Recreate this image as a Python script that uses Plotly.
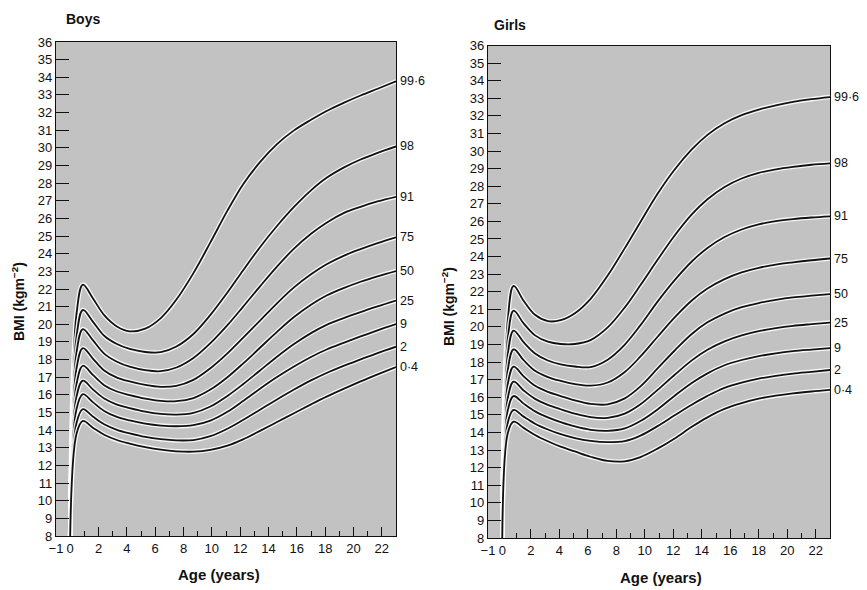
import plotly.graph_objects as go

# ---------------- data ----------------
centiles = ["99·6", "98", "91", "75", "50", "25", "9", "2", "0·4"]

boys_age = [0, 0.45, 0.9, 1.6, 2.4, 3.3, 4.2, 5.3, 6.4, 7.5, 8.7, 9.9, 11.1, 12.2,
            13.4, 14.6, 15.8, 17.0, 18.1, 19.3, 20.5, 21.7, 23]
boys_996 = [8, 20.6, 22.25, 21.48, 20.52, 19.88, 19.6, 19.75, 20.35, 21.4, 22.9, 24.64, 26.44,
            27.93, 29.19, 30.21, 30.99, 31.59, 32.09, 32.55, 32.97, 33.35, 33.77]
boys_98 = [8, 19.3, 20.81, 20.15, 19.35, 18.88, 18.6, 18.43, 18.42, 18.74, 19.45, 20.53, 21.8,
           23.05, 24.37, 25.57, 26.65, 27.59, 28.3, 28.88, 29.34, 29.72, 30.08]
boys_91 = [8, 18.4, 19.73, 19.1, 18.34, 17.88, 17.6, 17.4, 17.34, 17.55, 18.09, 18.93, 19.95,
           20.99, 22.15, 23.27, 24.29, 25.13, 25.76, 26.3, 26.66, 26.96, 27.22]
boys_75 = [8, 17.5, 18.65, 18.06, 17.38, 16.98, 16.76, 16.56, 16.45, 16.51, 16.85, 17.51, 18.35,
           19.23, 20.21, 21.19, 22.09, 22.83, 23.4, 23.88, 24.26, 24.6, 24.93]
boys_50 = [8, 16.6, 17.65, 17.13, 16.55, 16.19, 15.99, 15.79, 15.66, 15.64, 15.82, 16.3, 17.0,
           17.77, 18.67, 19.57, 20.41, 21.11, 21.63, 22.05, 22.41, 22.72, 23.02]
boys_25 = [8, 15.9, 16.80, 16.31, 15.79, 15.45, 15.25, 15.05, 14.92, 14.88, 14.98, 15.34, 15.94,
           16.6, 17.38, 18.16, 18.88, 19.5, 19.97, 20.35, 20.69, 21.01, 21.34]
boys_9 = [8, 15.2, 16.04, 15.59, 15.09, 14.75, 14.55, 14.37, 14.26, 14.22, 14.28, 14.54, 15.04,
          15.65, 16.35, 17.01, 17.61, 18.15, 18.57, 18.95, 19.31, 19.66, 20.01]
boys_2 = [8, 14.4, 15.19, 14.77, 14.33, 14.02, 13.82, 13.62, 13.49, 13.42, 13.44, 13.66, 14.08,
          14.58, 15.16, 15.74, 16.3, 16.82, 17.24, 17.64, 18.01, 18.37, 18.73]
boys_04 = [8, 13.8, 14.52, 14.14, 13.74, 13.44, 13.24, 13.04, 12.89, 12.8, 12.78, 12.88, 13.12,
           13.48, 13.96, 14.46, 14.96, 15.46, 15.9, 16.34, 16.76, 17.16, 17.58]

girls_age = [0, 0.4, 0.8, 1.5, 2.3, 3.2, 4.1, 5.1, 6.2, 7.4, 8.6, 9.7, 10.9, 12.1,
             13.3, 14.4, 15.6, 16.8, 18.0, 19.2, 20.4, 21.7, 23]
girls_996 = [8, 20.5, 22.33, 21.49, 20.69, 20.33, 20.38, 20.78, 21.6, 22.92, 24.48, 25.97, 27.57,
             28.95, 30.09, 30.92, 31.58, 32.04, 32.36, 32.6, 32.79, 32.95, 33.07]
girls_98 = [8, 19.4, 20.93, 20.2, 19.52, 19.16, 19.03, 19.03, 19.25, 19.97, 21.11, 22.38, 23.82,
            25.2, 26.4, 27.26, 27.96, 28.44, 28.76, 28.96, 29.1, 29.22, 29.3]
girls_91 = [8, 18.5, 19.79, 19.13, 18.49, 18.09, 17.87, 17.75, 17.72, 18.14, 19.0, 20.1, 21.44,
            22.66, 23.72, 24.49, 25.11, 25.54, 25.83, 26.01, 26.13, 26.22, 26.29]
girls_75 = [8, 17.6, 18.73, 18.11, 17.51, 17.15, 16.93, 16.75, 16.66, 16.84, 17.44, 18.32, 19.44,
            20.54, 21.5, 22.18, 22.72, 23.1, 23.36, 23.54, 23.67, 23.79, 23.89]
girls_50 = [8, 16.8, 17.74, 17.19, 16.65, 16.31, 16.07, 15.82, 15.62, 15.6, 15.94, 16.62, 17.64,
            18.66, 19.6, 20.26, 20.76, 21.12, 21.36, 21.54, 21.68, 21.78, 21.87]
girls_25 = [8, 16.0, 16.89, 16.39, 15.91, 15.57, 15.32, 15.07, 14.87, 14.83, 15.07, 15.6, 16.42,
            17.28, 18.1, 18.7, 19.18, 19.52, 19.76, 19.93, 20.06, 20.16, 20.25]
girls_9 = [8, 15.3, 16.07, 15.64, 15.2, 14.86, 14.59, 14.34, 14.15, 14.09, 14.23, 14.65, 15.31,
           16.09, 16.81, 17.36, 17.82, 18.12, 18.34, 18.5, 18.62, 18.71, 18.79]
girls_2 = [8, 14.6, 15.28, 14.9, 14.5, 14.17, 13.9, 13.68, 13.52, 13.45, 13.51, 13.82, 14.36,
           14.98, 15.58, 16.08, 16.54, 16.84, 17.06, 17.22, 17.35, 17.45, 17.55]
girls_04 = [8, 14.0, 14.61, 14.26, 13.86, 13.5, 13.19, 12.92, 12.62, 12.38, 12.36, 12.6, 13.08,
            13.66, 14.32, 14.86, 15.34, 15.67, 15.92, 16.09, 16.22, 16.33, 16.42]

boys_series = [boys_996, boys_98, boys_91, boys_75, boys_50, boys_25, boys_9, boys_2, boys_04]
girls_series = [girls_996, girls_98, girls_91, girls_75, girls_50, girls_25, girls_9, girls_2, girls_04]

x_tickvals = [-1, 0, 2, 4, 6, 8, 10, 12, 14, 16, 18, 20, 22]
x_ticktext = ["−1", "0", "2", "4", "6", "8", "10", "12", "14", "16", "18", "20", "22"]
y_tickvals = list(range(8, 37))

# ---------------- figure ----------------
FONT = "Liberation Sans, Arial, sans-serif"
INK = "#111111"
BG = "#c2c2c2"
W, H = 867, 590

fig = go.Figure()

panels = [
    ("x", "y", boys_age, boys_series),
    ("x2", "y2", girls_age, girls_series),
]

for xa, ya, ages, series in panels:
    for name, vals in zip(centiles, series):
        fig.add_trace(go.Scatter(x=ages, y=vals, xaxis=xa, yaxis=ya, mode="lines",
                                 line=dict(color="rgba(255,255,255,0.85)", width=4.5,
                                           shape="spline", smoothing=1.0),
                                 hoverinfo="skip", showlegend=False))
        fig.add_trace(go.Scatter(x=ages, y=vals, xaxis=xa, yaxis=ya, mode="lines",
                                 name=name,
                                 line=dict(color=INK, width=1.8, shape="spline", smoothing=1.0),
                                 showlegend=False))
        fig.add_annotation(x=ages[-1], y=vals[-1], xref=xa, yref=ya, text=name,
                           showarrow=False, xanchor="left", yanchor="middle", xshift=2,
                           font=dict(family=FONT, size=12.5, color=INK))

axis_common = dict(
    showgrid=False, zeroline=False, showline=True, linecolor=INK, linewidth=1.2,
    mirror=True, ticks="inside", tickcolor=INK, automargin=False,
    tickfont=dict(family=FONT, size=13, color=INK),
)
minor_x = dict(tickmode="linear", tick0=0, dtick=1, ticklen=5, ticks="inside", tickcolor=INK)

fig.update_layout(
    width=W, height=H, autosize=False,
    margin=dict(l=0, r=0, t=0, b=0, pad=0),
    paper_bgcolor="white", plot_bgcolor=BG,
    xaxis=dict(domain=[56 / W, 396 / W], range=[-1, 23], anchor="y",
               tickmode="array", tickvals=x_tickvals, ticktext=x_ticktext, ticklen=9,
               minor=minor_x, **axis_common),
    yaxis=dict(domain=[1 - 536 / H, 1 - 42 / H], range=[8, 36], anchor="x",
               tickmode="array", tickvals=y_tickvals, ticklen=13, **axis_common),
    xaxis2=dict(domain=[488 / W, 830 / W], range=[-1, 23], anchor="y2",
                tickmode="array", tickvals=x_tickvals, ticktext=x_ticktext, ticklen=9,
                minor=minor_x, **axis_common),
    yaxis2=dict(domain=[1 - 538 / H, 1 - 45.5 / H], range=[8, 36], anchor="x2",
                tickmode="array", tickvals=y_tickvals, ticklen=13, **axis_common),
)

def paper_text(x, y, text, size, bold=True, angle=0, xanchor="center"):
    fig.add_annotation(x=x / W, y=1 - y / H, xref="paper", yref="paper", text=text,
                       showarrow=False, xanchor=xanchor, yanchor="middle", textangle=angle,
                       font=dict(family=FONT, size=size, color=INK,
                                 weight="bold" if bold else "normal"))

paper_text(64, 19, "Boys", 14, xanchor="left")
paper_text(492, 25, "Girls", 14, xanchor="left")
paper_text(219, 574, "Age (years)", 15)
paper_text(661, 577, "Age (years)", 15)
paper_text(18, 302, "BMI (kgm<sup>−2</sup>)", 14, angle=-90)
paper_text(448, 306, "BMI (kgm<sup>−2</sup>)", 14, angle=-90)

fig.write_html("out.html", config={"displayModeBar": False},
               post_script="document.body.style.margin='0';document.body.style.overflow='hidden';")
